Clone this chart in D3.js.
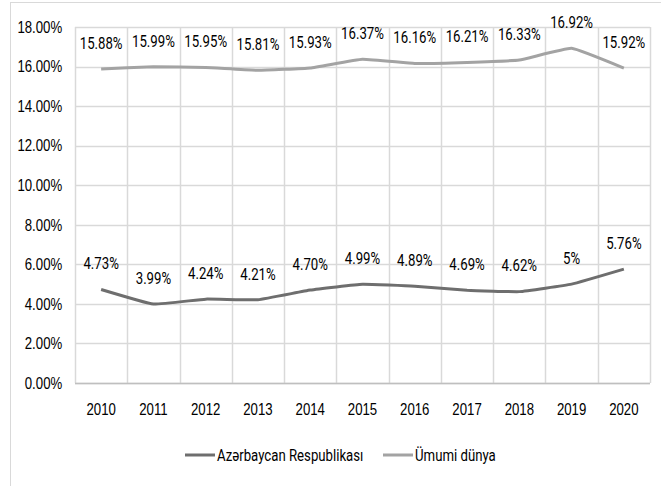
<!DOCTYPE html>
<html>
<head>
<meta charset="utf-8">
<script src="https://cdn.jsdelivr.net/npm/d3@7"></script>
<style>
  body { margin: 0; background: #fff; }
  svg { display: block; font-family: Roboto, "DejaVu Sans Condensed", sans-serif; }
</style>
</head>
<body>
<svg id="chart" width="661" height="486"></svg>
<script>
const years = ["2010", "2011", "2012", "2013", "2014", "2015", "2016", "2017", "2018", "2019", "2020"];
const azValues = [4.73, 3.99, 4.24, 4.21, 4.70, 4.99, 4.89, 4.69, 4.62, 5.00, 5.76];
const azLabels = ["4.73%", "3.99%", "4.24%", "4.21%", "4.70%", "4.99%", "4.89%", "4.69%", "4.62%", "5%", "5.76%"];
const worldValues = [15.88, 15.99, 15.95, 15.81, 15.93, 16.37, 16.16, 16.21, 16.33, 16.92, 15.92];
const worldLabels = ["15.88%", "15.99%", "15.95%", "15.81%", "15.93%", "16.37%", "16.16%", "16.21%", "16.33%", "16.92%", "15.92%"];
const yTicks = [0, 2, 4, 6, 8, 10, 12, 14, 16, 18];
const seriesNames = ["Azərbaycan Respublikası", "Ümumi dünya"];

const svg = d3.select("#chart");
const margin = {top: 27, right: 11, bottom: 103, left: 75};
const width = 661 - margin.left - margin.right;
const height = 486 - margin.top - margin.bottom;
const fontSize = 16.5;
const squeeze = 0.8; // narrow the glyphs like the original condensed font

// outer chart frame
svg.append("rect")
  .attr("x", 10.5).attr("y", 2.5)
  .attr("width", 660).attr("height", 490)
  .attr("fill", "none")
  .attr("stroke", "#d9d9d9");

const g = svg.append("g").attr("transform", `translate(${margin.left},${margin.top})`);

const x = d3.scaleBand().domain(years).range([0, width]);
const y = d3.scaleLinear().domain([0, 18]).range([height, 0]);

// horizontal gridlines
g.append("g")
  .selectAll("line")
  .data(yTicks)
  .join("line")
    .attr("x1", 0).attr("x2", width)
    .attr("y1", d => Math.round(y(d)) + 0.5)
    .attr("y2", d => Math.round(y(d)) + 0.5)
    .attr("stroke", "#d9d9d9")
    .attr("stroke-width", 1.5);

// vertical gridlines between categories
const bounds = years.map(d => x(d)).concat([width]);
g.append("g")
  .selectAll("line")
  .data(bounds)
  .join("line")
    .attr("x1", d => Math.round(d) + 0.5).attr("x2", d => Math.round(d) + 0.5)
    .attr("y1", 0).attr("y2", height)
    .attr("stroke", "#d9d9d9")
    .attr("stroke-width", 1.5);

// baseline
g.append("line")
  .attr("x1", 0).attr("x2", width)
  .attr("y1", height + 0.5).attr("y2", height + 0.5)
  .attr("stroke", "#bfbfbf")
  .attr("stroke-width", 1.5);

// y axis labels
const yAxis = d3.axisLeft(y).tickValues(yTicks).tickSize(0).tickPadding(16)
  .tickFormat(d => d3.format(".2f")(d) + "%");
g.append("g").call(yAxis)
  .call(a => a.select(".domain").remove())
  .selectAll("text")
    .attr("font-size", fontSize)
    .attr("font-family", null)
    .attr("fill", "#000")
    .attr("transform", `scale(${squeeze},1)`);

// x axis labels
const xAxis = d3.axisBottom(x).tickSize(0).tickPadding(20);
g.append("g").attr("transform", `translate(0,${height})`).call(xAxis)
  .call(a => a.select(".domain").remove())
  .selectAll("text")
    .attr("font-size", fontSize)
    .attr("font-family", null)
    .attr("fill", "#000")
    .attr("transform", `scale(${squeeze},1)`);

const line = d3.line()
  .x((d, i) => x(years[i]) + x.bandwidth() / 2)
  .y(d => y(d))
  .curve(d3.curveCardinal.tension(0.7));

const series = [
  {name: seriesNames[0], values: azValues, labels: azLabels, color: "#6e6e6e"},
  {name: seriesNames[1], values: worldValues, labels: worldLabels, color: "#a3a3a3"}
];

series.forEach(s => {
  g.append("path")
    .datum(s.values)
    .attr("fill", "none")
    .attr("stroke", s.color)
    .attr("stroke-width", 3)
    .attr("stroke-linejoin", "round")
    .attr("d", line);

  g.append("g")
    .selectAll("text")
    .data(s.values)
    .join("text")
      .attr("transform", (d, i) => `translate(${x(years[i]) + x.bandwidth() / 2},${y(d) - 26}) scale(${squeeze},1)`)
      .attr("dy", "0.35em")
      .attr("text-anchor", "middle")
      .attr("font-size", fontSize)
      .attr("fill", "#000")
      .text((d, i) => s.labels[i]);
});

// legend
const legendItems = [{x: 185, s: series[0]}, {x: 383, s: series[1]}];
const legend = svg.append("g").attr("transform", "translate(0,455)");
legendItems.forEach(it => {
  legend.append("line")
    .attr("x1", it.x).attr("x2", it.x + 30)
    .attr("y1", 0).attr("y2", 0)
    .attr("stroke", it.s.color)
    .attr("stroke-width", 3);
  legend.append("text")
    .attr("transform", `translate(${it.x + 32},0) scale(${squeeze},1)`)
    .attr("dy", "0.35em")
    .attr("font-size", fontSize)
    .attr("fill", "#000")
    .text(it.s.name);
});
</script>
</body>
</html>
